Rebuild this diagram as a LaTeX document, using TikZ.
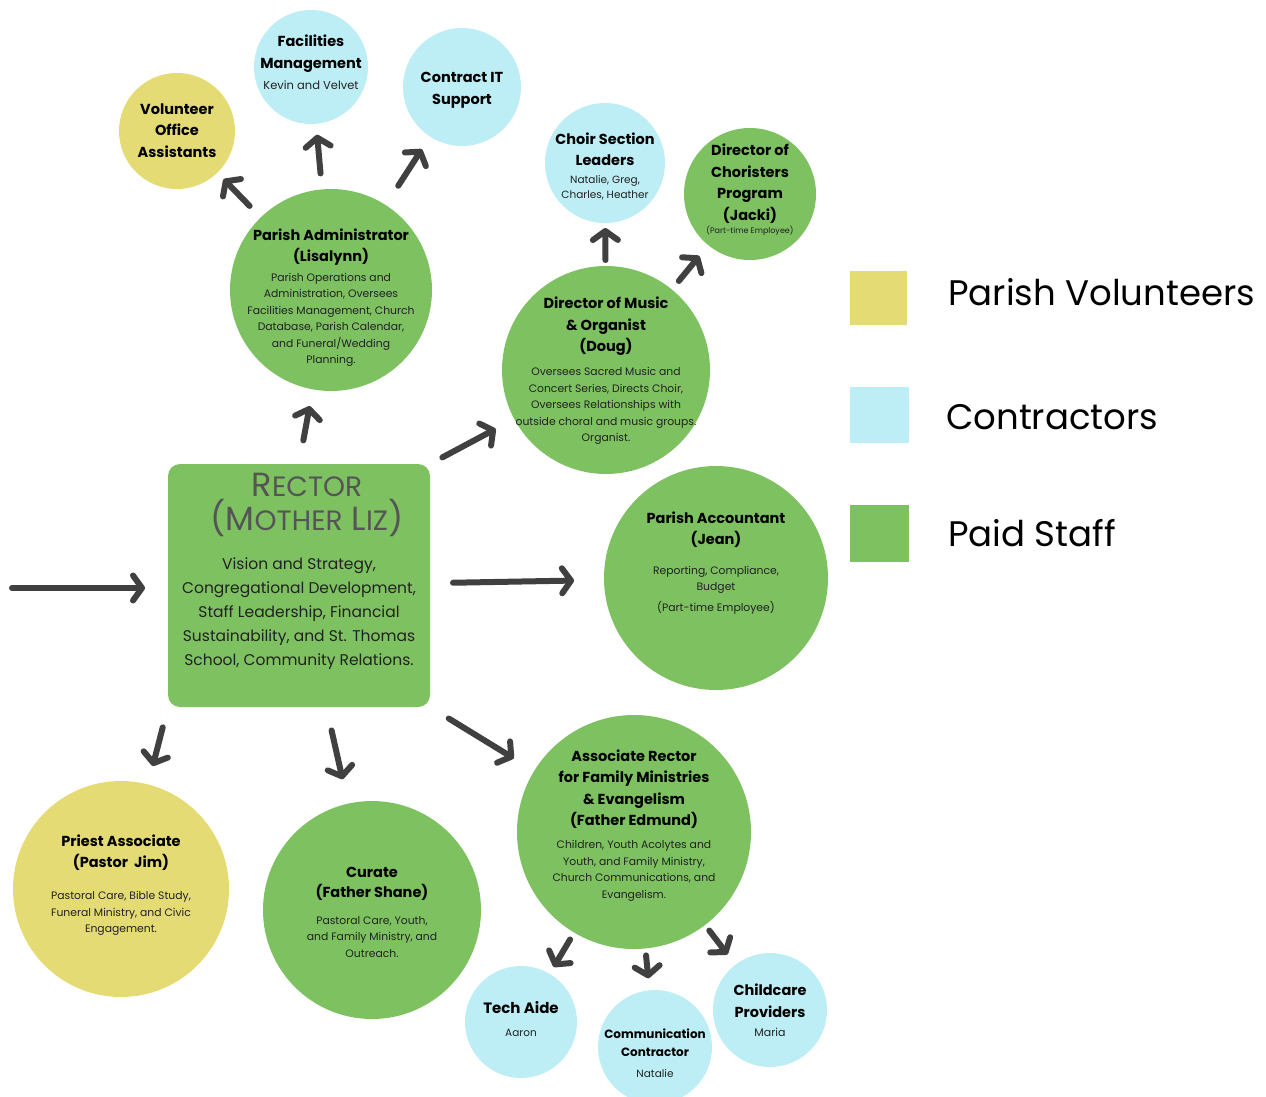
\documentclass[tikz,border=0pt]{standalone}
\usepackage{fontspec}
\setmainfont{Poppins}
\usepackage{tikz}
\definecolor{volcol}{RGB}{228, 219, 116}
\definecolor{concol}{RGB}{190, 238, 245}
\definecolor{staffcol}{RGB}{125, 193, 96}
\definecolor{arrcol}{RGB}{64, 64, 64}
\definecolor{bodycol}{RGB}{34, 34, 34}
\definecolor{rectorcol}{RGB}{85, 85, 85}
\usetikzlibrary{arrows.meta}
\newcommand{\rsc}[2]{#1{\fontsize{28}{34}\selectfont #2}}

\begin{document}
\begin{tikzpicture}[x=1pt, y=-1pt,
  circ/.style={circle, inner sep=0pt, outer sep=0pt},
  volunteer/.style={circ, fill=volcol},
  contractor/.style={circ, fill=concol},
  staff/.style={circ, fill=staffcol},
  head/.style={align=center, inner sep=0pt, font=\bfseries\fontsize{14.5}{21.5}\selectfont},
  body/.style={align=center, inner sep=0pt, text=bodycol, font=\fontsize{10.8}{16.5}\selectfont},
  arr/.style={line width=6pt, draw=arrcol, line cap=round, -{Straight Barb[length=9pt, width=25pt, round]}},
  keybox/.style={anchor=north west, inner sep=0pt, outer sep=0pt},
  keytext/.style={anchor=west, inner sep=0pt, font=\fontsize{35.5}{40}\selectfont}]
\useasboundingbox (0, 0) rectangle (1266, 1097);
\node (rector) [rectangle, rounded corners=12pt, fill=staffcol, inner sep=0pt, outer sep=0pt, minimum width=262pt, minimum height=243pt] at (299, 585.5) {};
\node (admin) [staff, minimum size=202pt] at (331, 290) {};
\node (volunteer) [volunteer, minimum size=116pt] at (177, 131) {};
\node (facilities) [contractor, minimum size=114pt] at (311, 67) {};
\node (itsupport) [contractor, minimum size=118pt] at (462, 87) {};
\node (music) [staff, minimum size=208pt] at (606, 370) {};
\node (choir) [contractor, minimum size=120pt] at (605, 163) {};
\node (choristers) [staff, minimum size=132pt] at (750, 194) {};
\node (accountant) [staff, minimum size=224pt] at (716, 578) {};
\node (assoc) [staff, minimum size=234pt] at (634, 832) {};
\node (curate) [staff, minimum size=218pt] at (372, 910) {};
\node (priest) [volunteer, minimum size=216pt] at (121, 889) {};
\node (techaide) [contractor, minimum size=112pt] at (521, 1022) {};
\node (comms) [contractor, minimum size=114pt] at (655, 1047) {};
\node (childcare) [contractor, minimum size=114pt] at (770, 1010) {};

\node (rector-t) [align=center, inner sep=0pt, text=rectorcol, font=\fontsize{33.5}{34}\selectfont] at (307, 505) {\rsc{R}{ECTOR}\\(\rsc{M}{OTHER} \rsc{L}{IZ})};
\node (rector-b) [body, font=\fontsize{15.5}{24}\selectfont] at (299, 614) {Vision and Strategy,\\Congregational Development,\\Staff Leadership, Financial\\Sustainability, and St. Thomas\\School, Community Relations.};
\node (admin-h) [head] at (331, 247) {Parish Administrator\\(Lisalynn)};
\node (admin-b) [body] at (331, 320) {Parish Operations and\\Administration, Oversees\\Facilities Management, Church\\Database, Parish Calendar,\\and Funeral/Wedding\\Planning.};
\node (volunteer-h) [head] at (177, 130.5) {Volunteer\\Office\\Assistants};
\node (facilities-h) [head] at (311, 53.5) {Facilities\\Management};
\node (facilities-b) [body, font=\fontsize{11.5}{16}\selectfont] at (311, 85) {Kevin and Velvet};
\node (itsupport-h) [head] at (462, 90.5) {Contract IT\\Support};
\node (music-h) [head] at (606, 326.5) {Director of Music\\\& Organist\\(Doug)};
\node (music-b) [body] at (606, 406) {Oversees Sacred Music and\\Concert Series, Directs Choir,\\Oversees Relationships with\\outside choral and music groups.\\Organist.};
\node (choir-h) [head] at (605, 149.5) {Choir Section\\Leaders};
\node (choir-b) [body, font=\fontsize{10.5}{15}\selectfont] at (605, 187.5) {Natalie, Greg,\\Charles, Heather};
\node (choristers-h) [head] at (750, 183.5) {Director of\\Choristers\\Program\\(Jacki)};
\node (choristers-b) [body, font=\fontsize{8}{9}\selectfont] at (750, 231) {(Part-time Employee)};
\node (accountant-h) [head] at (716, 529.5) {Parish Accountant\\(Jean)};
\node (accountant-b) [body] at (716, 590) {Reporting, Compliance,\\Budget\\[4pt](Part-time Employee)};
\node (assoc-h) [head] at (634, 789) {Associate Rector\\for Family Ministries\\\& Evangelism\\(Father Edmund)};
\node (assoc-b) [body] at (634, 871) {Children, Youth Acolytes and\\Youth, and Family Ministry,\\Church Communications, and\\Evangelism.};
\node (curate-h) [head, font=\bfseries\fontsize{14.5}{20}\selectfont] at (372, 884) {Curate\\(Father Shane)};
\node (curate-b) [body] at (372, 937) {Pastoral Care, Youth,\\and Family Ministry, and\\Outreach.};
\node (priest-h) [head] at (121, 852.5) {Priest Associate\\(Pastor~~Jim)};
\node (priest-b) [body] at (121, 913.5) {Pastoral Care, Bible Study,\\Funeral Ministry, and Civic\\Engagement.};
\node (techaide-h) [head, font=\bfseries\fontsize{15}{20}\selectfont] at (521, 1008) {Tech Aide};
\node (techaide-b) [body, font=\fontsize{10.5}{15}\selectfont] at (521, 1033) {Aaron};
\node (comms-h) [head, font=\bfseries\fontsize{12}{18}\selectfont] at (655, 1043) {Communication\\Contractor};
\node (comms-b) [body, font=\fontsize{10.5}{15}\selectfont] at (655, 1074) {Natalie};
\node (childcare-h) [head] at (770, 1000.5) {Childcare\\Providers};
\node (childcare-b) [body, font=\fontsize{11}{15}\selectfont] at (770, 1032) {Maria};

\node (keyvol) [keybox, fill=volcol, minimum width=57pt, minimum height=54pt] at (850, 271) {};
\node (keycon) [keybox, fill=concol, minimum width=59pt, minimum height=56pt] at (850, 387) {};
\node (keystaff) [keybox, fill=staffcol, minimum width=59pt, minimum height=57pt] at (850, 505) {};
\node (keyvol-t) [keytext] at (948, 292) {Parish Volunteers};
\node (keycon-t) [keytext] at (946, 417) {Contractors};
\node (keystaff-t) [keytext] at (948, 533) {Paid Staff};

\coordinate (in) at (12, 588);
\draw [arr, shorten >=23pt] (in) -- (in -| rector.west);
\draw [arr, shorten <=24pt, shorten >=17pt] (rector.north) -- (admin);
\draw [arr, shorten <=16pt, shorten >=9pt] (admin) -- (volunteer);
\draw [arr, shorten <=16pt, shorten >=11pt] (admin) -- (facilities);
\draw [arr, shorten <=23pt, shorten >=15pt] (admin) -- (itsupport);
\draw [arr, shorten <=14pt, shorten >=21pt] (rector.north east) -- (music);
\draw [arr, shorten <=6pt, shorten >=5pt] (music) -- (choir);
\draw [arr, shorten <=11pt, shorten >=14pt] (music) -- (choristers);
\draw [arr, shorten <=23pt, shorten >=30pt] (rector) -- (accountant);
\draw [arr, shorten <=22pt, shorten >=24pt] (rector.south east) -- (assoc);
\draw [arr, shorten <=24pt, shorten >=25pt] (rector) -- (curate);
\draw [arr, shorten <=21pt, shorten >=19pt] (rector.south west) -- (priest);
\draw [arr, shorten <=8pt, shorten >=8pt] (assoc) -- (techaide);
\draw [arr, shorten <=7pt, shorten >=12pt] (assoc) -- (comms);
\draw [arr, shorten <=7pt, shorten >=13pt] (assoc) -- (childcare);
\end{tikzpicture}
\end{document}
